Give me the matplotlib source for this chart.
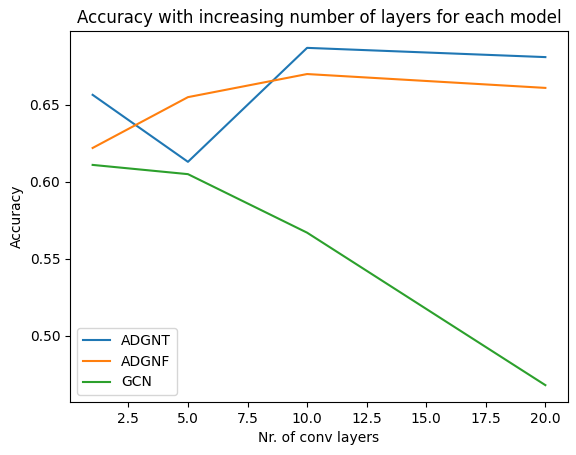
import matplotlib
matplotlib.use("Agg")
import matplotlib.pyplot as plt

layers = [1, 5, 10, 20]
adgnt = [0.6565, 0.613, 0.687, 0.681]
adgnf = [0.622, 0.655, 0.670, 0.661]
gcn = [0.611, 0.605, 0.567, 0.468]

fig, ax = plt.subplots(figsize=(5.76, 4.55), dpi=100)
fig.subplots_adjust(left=70/576, right=568/576, top=1-31/455, bottom=1-402/455)
ax.plot(layers, adgnt, label="ADGNT")
ax.plot(layers, adgnf, label="ADGNF")
ax.plot(layers, gcn, label="GCN")
ax.set_title("Accuracy with increasing number of layers for each model")
ax.set_xlabel("Nr. of conv layers")
ax.set_ylabel("Accuracy")
ax.legend(loc="lower left")
fig.savefig("out.png", dpi=100)
